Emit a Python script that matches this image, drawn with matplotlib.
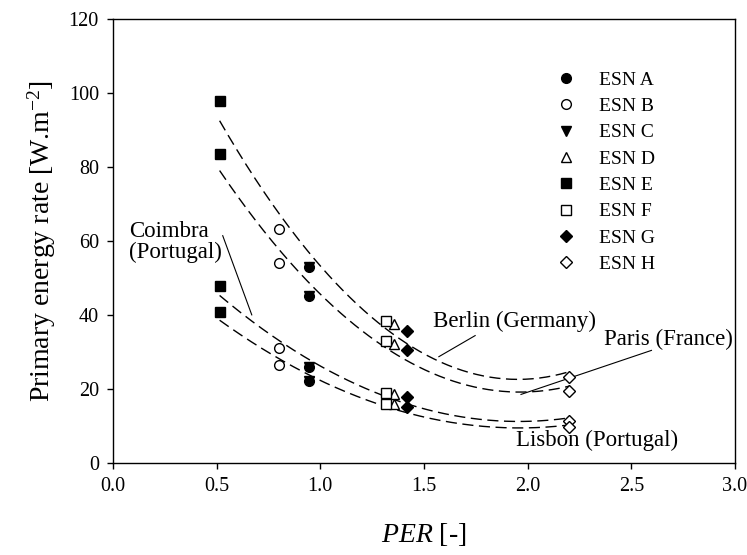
import numpy as np
import matplotlib
matplotlib.use("Agg")
import matplotlib.pyplot as plt

plt.rcParams['font.family'] = ['Liberation Serif', 'DejaVu Serif']
plt.rcParams['mathtext.fontset'] = 'custom'
plt.rcParams['mathtext.rm'] = 'Liberation Serif'
plt.rcParams['mathtext.it'] = 'Liberation Serif:italic'

# ESN systems A..H
esn_labels = ['ESN A', 'ESN B', 'ESN C', 'ESN D', 'ESN E', 'ESN F', 'ESN G', 'ESN H']
esn_per = [0.948, 0.80, 0.948, 1.358, 0.515, 1.315, 1.42, 2.20]

# primary energy rate per city, ordered as esn_labels
berlin = [52.9, 63.1, 52.9, 37.4, 97.7, 38.3, 35.6, 23.1]
paris = [45.2, 54.1, 45.2, 32.0, 83.5, 32.9, 30.6, 19.4]
coimbra = [26.0, 31.0, 26.0, 18.5, 47.8, 18.8, 17.7, 11.4]
lisbon = [22.1, 26.5, 22.1, 15.8, 40.7, 15.9, 15.0, 9.6]

markers = ['o', 'o', 'v', '^', 's', 's', 'D', 'D']
filled = [True, False, True, False, True, False, True, False]
msizes = [7, 7, 7.5, 7.5, 7, 7, 6.5, 6.5]

fig = plt.figure(figsize=(7.47, 5.55), dpi=100)
ax = fig.add_axes([0.151, 0.166, 0.833, 0.800])

# quadratic trend lines per city
xs = np.linspace(min(esn_per), max(esn_per), 200)
for city in [berlin, paris, coimbra, lisbon]:
    c = np.polyfit(esn_per, city, 2)
    ax.plot(xs, np.polyval(c, xs), color='black', lw=1.0, dashes=(8, 4), zorder=1)

for i in range(len(esn_labels)):
    ys = [berlin[i], paris[i], coimbra[i], lisbon[i]]
    ax.plot([esn_per[i]] * 4, ys, linestyle='none', marker=markers[i],
            ms=msizes[i], mec='black', mew=1.0,
            mfc='black' if filled[i] else 'white',
            label=esn_labels[i], zorder=3)

# city annotations
ax.text(0.08, 59.8, 'Coimbra\n(Portugal)', fontsize=16.5, ha='left', va='center',
        linespacing=1.0)
ax.plot([0.53, 0.67], [61.4, 40.0], color='black', lw=0.8)
ax.text(1.545, 38.3, 'Berlin (Germany)', fontsize=16.5, ha='left', va='center')
ax.plot([1.747, 1.572], [34.4, 28.7], color='black', lw=0.8)
ax.text(2.37, 33.3, 'Paris (France)', fontsize=16.5, ha='left', va='center')
ax.plot([2.597, 1.968], [30.4, 18.5], color='black', lw=0.8)
ax.text(1.945, 6.0, 'Lisbon (Portugal)', fontsize=16.5, ha='left', va='center')

ax.set_xlim(0, 3.0)
ax.set_ylim(0, 120)
ax.set_xticks(np.arange(0, 3.01, 0.5))
ax.set_yticks(np.arange(0, 121, 20))
ax.set_xticklabels(['%.1f' % v for v in np.arange(0, 3.01, 0.5)])
ax.tick_params(direction='out', length=4, width=1, labelsize=14.5, pad=6,
               top=False, right=False)
for s in ax.spines.values():
    s.set_linewidth(1.0)

ax.set_xlabel(r'$PER$ [-]', fontsize=20, labelpad=18)
ax.set_ylabel(r'Primary energy rate [W.m$^{-2}$]', fontsize=20, labelpad=8)

ax.legend(loc='upper left', bbox_to_anchor=(0.7, 0.90), frameon=False,
          fontsize=14, handlelength=1.0, handletextpad=1.2, labelspacing=0.45,
          borderaxespad=0)

plt.savefig('out.png', dpi=100)
